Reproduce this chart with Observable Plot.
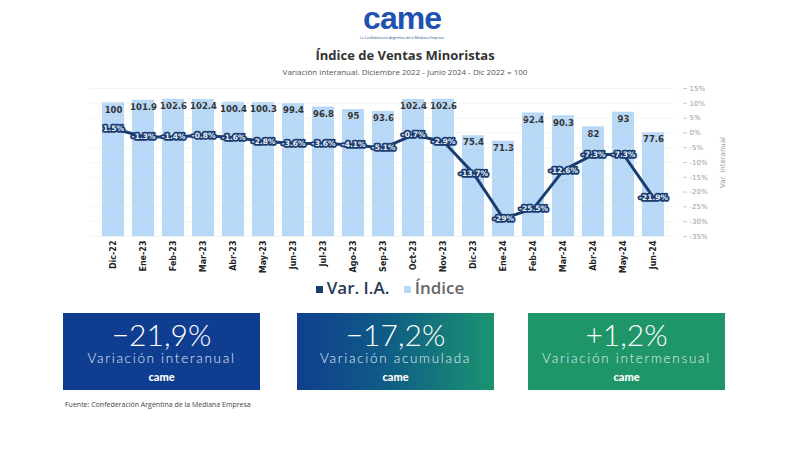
<!DOCTYPE html>
<html><head><meta charset="utf-8">
<script src="https://cdn.jsdelivr.net/npm/d3@7"></script>
<script src="https://cdn.jsdelivr.net/npm/@observablehq/plot@0.6"></script>
<style>
body{margin:0;background:#fff;font-family:"Open Sans",Lato,sans-serif;}
#wrap{position:relative;width:800px;height:450px;overflow:hidden;background:#fff;}
.abs{position:absolute;}
#chart svg{position:absolute;left:0;top:0;}
.box{position:absolute;top:313px;width:197px;height:77px;color:#fff;text-align:center;font-family:Lato,sans-serif;}
.box .num{font-size:30px;font-weight:300;line-height:32px;margin-top:5px;}
.box .sub{font-size:13.5px;font-weight:300;letter-spacing:1.7px;color:#e3edf7;line-height:17px;}
.box .lg{font-size:11px;font-weight:900;margin-top:3px;}
</style></head><body>
<div id="wrap">
  <div class="abs" style="left:2px;width:800px;top:1px;text-align:center;font-family:'Liberation Sans',Arial,sans-serif;font-weight:900;font-size:32px;color:#1f52b0;letter-spacing:-1px;line-height:34px;">came</div>
  <div class="abs" style="left:2px;width:800px;top:35px;text-align:center;font-size:3.5px;color:#2a4f9a;">La Confederación Argentina de la Mediana Empresa</div>
  <div class="abs" id="title" style="left:5px;width:800px;top:46px;text-align:center;font-size:13px;font-weight:700;color:#333;"></div>
  <div class="abs" id="subtitle" style="left:5px;width:800px;top:66px;text-align:center;font-size:8px;color:#555;"></div>
  <div id="chart" class="abs" style="left:0;top:80px;width:800px;height:200px;"></div>
  <div id="legend" class="abs" style="left:-10px;width:800px;top:276px;text-align:center;font-size:17px;font-weight:600;color:#444;"></div>
  <div id="boxes"></div>
  <div class="abs" id="source" style="left:65px;top:400px;font-size:7px;color:#444;"></div>
</div>
<script>
const months = ["Dic-22","Ene-23","Feb-23","Mar-23","Abr-23","May-23","Jun-23","Jul-23","Ago-23","Sep-23","Oct-23","Nov-23","Dic-23","Ene-24","Feb-24","Mar-24","Abr-24","May-24","Jun-24"];
const indice = [100,101.9,102.6,102.4,100.4,100.3,99.4,96.8,95,93.6,102.4,102.6,75.4,71.3,92.4,90.3,82,93,77.6];
const varIA = [1.5,-1.3,-1.4,-0.8,-1.6,-2.8,-3.6,-3.6,-4.1,-5.1,-0.7,-2.9,-13.7,-29,-25.5,-12.6,-7.3,-7.3,-21.9];
const pctTicks = [15,10,5,0,-5,-10,-15,-20,-25,-30,-35];
const seriesNames = ["Var. I.A.","Índice"];
const boxValues = ["−21,9%","−17,2%","+1,2%"];
const boxLabels = ["Variación interanual","Variación acumulada","Variación intermensual"];
const titleText = "Índice de Ventas Minoristas";
const subtitleText = "Variación interanual. Diciembre 2022 - Junio 2024 - Dic 2022 = 100";
const sourceText = "Fuente: Confederación Argentina de la Mediana Empresa";

document.getElementById("title").textContent = titleText;
document.getElementById("subtitle").textContent = subtitleText;
document.getElementById("source").textContent = sourceText;

const data = months.map((m,i)=>({m, idx: indice[i], v: varIA[i]}));
const W = 800, H = 200, mL = 91, mR = 126, mT = 8, mB = 44;
const BAR = "#b7d8f7", NAVY = "#1a3c70";
const fmtPct = v => (Number.isInteger(v) ? v : v.toFixed(1)) + "%";

const bars = Plot.plot({
  width: W, height: H, marginLeft: mL, marginRight: mR, marginTop: mT, marginBottom: mB,
  style: {background: "transparent", fontFamily: "DejaVu Sans, sans-serif"},
  x: {domain: months, paddingInner: 0.27, paddingOuter: 0.135, label: null},
  y: {domain: [0, 110.7], axis: null},
  marks: [
    Plot.barY(data, {x: "m", y: "idx", fill: BAR}),
    Plot.text(data, {x: "m", y: "idx", text: d => String(d.idx), dy: 7, fontSize: 8.5, fontWeight: "bold", fill: "#333"}),
    Plot.axisX({tickRotate: -90, tickSize: 0, tickPadding: 4, fontSize: 8, fontWeight: "bold", fill: "#222"})
  ]
});

const line = Plot.plot({
  width: W, height: H, marginLeft: mL, marginRight: mR, marginTop: mT, marginBottom: mB,
  style: {background: "transparent", fontFamily: "DejaVu Sans, sans-serif"},
  x: {domain: months, paddingInner: 0.27, paddingOuter: 0.135, axis: null},
  y: {domain: [-35, 15], ticks: pctTicks, tickFormat: d => d + "%"},
  marks: [
    Plot.ruleY(pctTicks, {stroke: "#e2e2e2", strokeDasharray: "2,2", strokeWidth: 0.7}),
    Plot.axisY({anchor: "right", ticks: pctTicks, tickFormat: d => d + "%", tickSize: 4, tickPadding: 3, dx: 8, fontSize: 7, color: "#9a9a9a", stroke: "#ccc",
      label: "Var. Interanual", labelAnchor: "center", labelArrow: "none", labelOffset: 50}),
    Plot.lineY(data, {x: "m", y: "v", stroke: NAVY, strokeWidth: 3}),
    Plot.text(data, {x: "m", y: "v", text: d => fmtPct(d.v), fontSize: 7.5, fontWeight: "bold", fill: "#e8f1fb", stroke: NAVY, strokeWidth: 3.5})
  ]
});
const chart = document.getElementById("chart");
chart.appendChild(bars);
chart.appendChild(line);

const leg = document.getElementById("legend");
leg.innerHTML = `<span style="display:inline-block;width:7px;height:7px;background:${NAVY};vertical-align:middle;margin-right:4px"></span><span style="color:#2b3a55">${seriesNames[0]}</span>
<span style="display:inline-block;width:7px;height:7px;background:${BAR};vertical-align:middle;margin:0 4px 0 10px"></span><span style="color:#666">${seriesNames[1]}</span>`;

const boxStyles = [
  {left: 63, bg: "#0f3d8f"},
  {left: 297, bg: "linear-gradient(90deg,#103f8e 0%,#0f5c86 45%,#1b9470 100%)"},
  {left: 528, bg: "#1f9668"}
];
const bx = document.getElementById("boxes");
boxStyles.forEach((s,i)=>{
  const d = document.createElement("div");
  d.className = "box";
  d.style.left = s.left + "px";
  d.style.background = s.bg;
  d.innerHTML = `<div class="num">${boxValues[i]}</div><div class="sub">${boxLabels[i]}</div><div class="lg">came</div>`;
  bx.appendChild(d);
});
</script>
</body></html>
